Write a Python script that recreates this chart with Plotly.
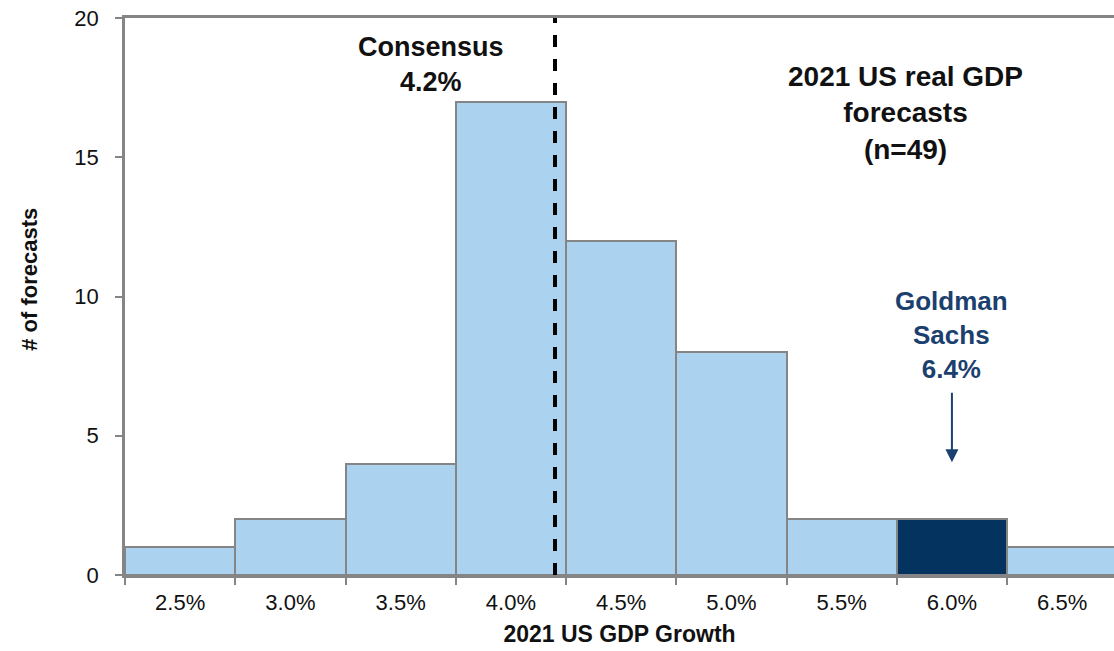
import plotly.graph_objects as go

# Distribution of 2021 US real GDP growth forecasts
bins = ["2.5%", "3.0%", "3.5%", "4.0%", "4.5%", "5.0%", "5.5%", "6.0%", "6.5%"]
bin_centers = [2.5, 3.0, 3.5, 4.0, 4.5, 5.0, 5.5, 6.0, 6.5]
counts = [1, 2, 4, 17, 12, 8, 2, 2, 1]
consensus = 4.2
gs_forecast = 6.4
gs_bin = "6.0%"

LIGHT = "#ABD2EF"
DARK = "#03335E"
GREY = "#858585"
NAVY = "#1B3F6E"
FONT = "Arial, Liberation Sans, sans-serif"

colors = [DARK if b == gs_bin else LIGHT for b in bins]

fig = go.Figure(go.Bar(
    x=bins, y=counts,
    marker=dict(color=colors, line=dict(color=GREY, width=2)),
    hoverinfo="x+y",
))

# position on the category axis for a growth value
step = bin_centers[1] - bin_centers[0]
def to_cat(v):
    return (v - bin_centers[0]) / step

cons_x = to_cat(consensus)
gs_x = bins.index(gs_bin)

fig.add_shape(type="line", xref="x", yref="paper", x0=cons_x, x1=cons_x, y0=0, y1=1,
              line=dict(color="black", width=4, dash="dash"), layer="above")

fig.add_annotation(x=cons_x, xref="x", xshift=-124, y=20, yref="y", yanchor="top", yshift=-12,
                   text="<b>Consensus<br>" + f"{consensus:.1f}%</b>", showarrow=False,
                   font=dict(size=27, color="#111111", family=FONT), align="center")

fig.add_annotation(x=0.789, xref="paper", xanchor="center", y=20, yref="y", yanchor="top",
                   yshift=-41,
                   text="<b>2021 US real GDP<br>forecasts<br>(n=49)</b>", showarrow=False,
                   font=dict(size=28, color="#111111", family=FONT), align="center")

fig.add_annotation(x=gs_x, xref="x", y=4.05, yref="y", ax=gs_x, axref="x", ay=6.6, ayref="y",
                   text="", showarrow=True, arrowhead=2, arrowsize=1.3, arrowwidth=2,
                   arrowcolor=NAVY)
fig.add_annotation(x=gs_x, xref="x", y=10.45, yref="y", yanchor="top",
                   text="<b>Goldman<br>Sachs<br>" + f"{gs_forecast:.1f}%</b>", showarrow=False,
                   font=dict(size=26, color=NAVY, family=FONT), align="center")

fig.add_annotation(x=0, xref="paper", xanchor="center", xshift=-95, y=0.53, yref="paper",
                   text="<b># of forecasts</b>", textangle=-90, showarrow=False,
                   font=dict(size=22, color="#111111", family=FONT))

fig.update_layout(
    width=1114, height=651,
    margin=dict(l=125, r=0, t=18, b=76),
    paper_bgcolor="white", plot_bgcolor="white",
    bargap=0, showlegend=False,
    font=dict(family=FONT, color="#111111"),
    xaxis=dict(
        type="category", range=[-0.5, 8.47], tickson="boundaries",
        showline=True, linecolor=GREY, linewidth=2.5, mirror=True,
        ticks="outside", ticklen=7, tickwidth=2, tickcolor=GREY,
        tickfont=dict(size=22), ticklabelstandoff=6,
        title=dict(text="<b>2021 US GDP Growth</b>", font=dict(size=23), standoff=12),
        showgrid=False, zeroline=False,
    ),
    yaxis=dict(
        range=[0, 20], tickvals=[0, 5, 10, 15, 20],
        showline=True, linecolor=GREY, linewidth=2.5,
        ticks="outside", ticklen=7, tickwidth=2, tickcolor=GREY,
        tickfont=dict(size=22), ticklabelstandoff=12,
        showgrid=False, zeroline=False,
    ),
)

fig.write_html("out.html")
